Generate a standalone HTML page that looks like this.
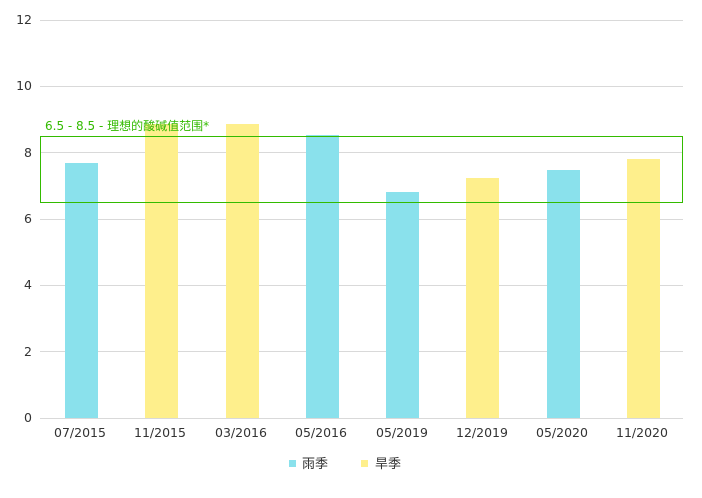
<!DOCTYPE html>
<html><head><meta charset="utf-8"><style>body{margin:0;background:#fff}svg{display:block}</style></head><body>
<svg width="702" height="498" xmlns="http://www.w3.org/2000/svg" font-family="DejaVu Sans, Noto Sans CJK TC, sans-serif">
<g stroke="#d9d9d9" stroke-width="1">
<line x1="40" x2="683" y1="20.5" y2="20.5"/><line x1="40" x2="683" y1="86.5" y2="86.5"/><line x1="40" x2="683" y1="152.5" y2="152.5"/><line x1="40" x2="683" y1="219.5" y2="219.5"/><line x1="40" x2="683" y1="285.5" y2="285.5"/><line x1="40" x2="683" y1="351.5" y2="351.5"/><line x1="40" x2="683" y1="418.5" y2="418.5"/>
</g>
<g font-size="12.5" fill="#333" text-anchor="end">
<text x="32" y="24">12</text><text x="32" y="90">10</text><text x="32" y="157">8</text><text x="32" y="223">6</text><text x="32" y="289">4</text><text x="32" y="356">2</text><text x="32" y="422">0</text>
</g>
<rect x="65" y="163" width="33" height="255" fill="#8ae1ec"/>
<rect x="145" y="124" width="33" height="294" fill="#feef8c"/>
<rect x="226" y="124" width="33" height="294" fill="#feef8c"/>
<rect x="306" y="135" width="33" height="283" fill="#8ae1ec"/>
<rect x="386" y="192" width="33" height="226" fill="#8ae1ec"/>
<rect x="466" y="178" width="33" height="240" fill="#feef8c"/>
<rect x="547" y="170" width="33" height="248" fill="#8ae1ec"/>
<rect x="627" y="159" width="33" height="259" fill="#feef8c"/>
<rect x="40.5" y="136.5" width="642" height="66" fill="none" stroke="#33bb00" stroke-width="1"/>
<text x="45" y="130" font-size="12" fill="#33bb00">6.5 - 8.5 - 理想的酸碱值范围*</text>
<g font-size="12.5" fill="#333" text-anchor="middle">
<text x="80" y="437">07/2015</text><text x="160" y="437">11/2015</text><text x="241" y="437">03/2016</text><text x="321" y="437">05/2016</text><text x="402" y="437">05/2019</text><text x="482" y="437">12/2019</text><text x="562" y="437">05/2020</text><text x="642" y="437">11/2020</text>
</g>
<rect x="289" y="460" width="7" height="7" fill="#8ae1ec"/>
<text x="302" y="468" font-size="13" fill="#333">雨季</text>
<rect x="361" y="460" width="7" height="7" fill="#feef8c"/>
<text x="375" y="468" font-size="13" fill="#333">旱季</text>
</svg>
</body></html>
